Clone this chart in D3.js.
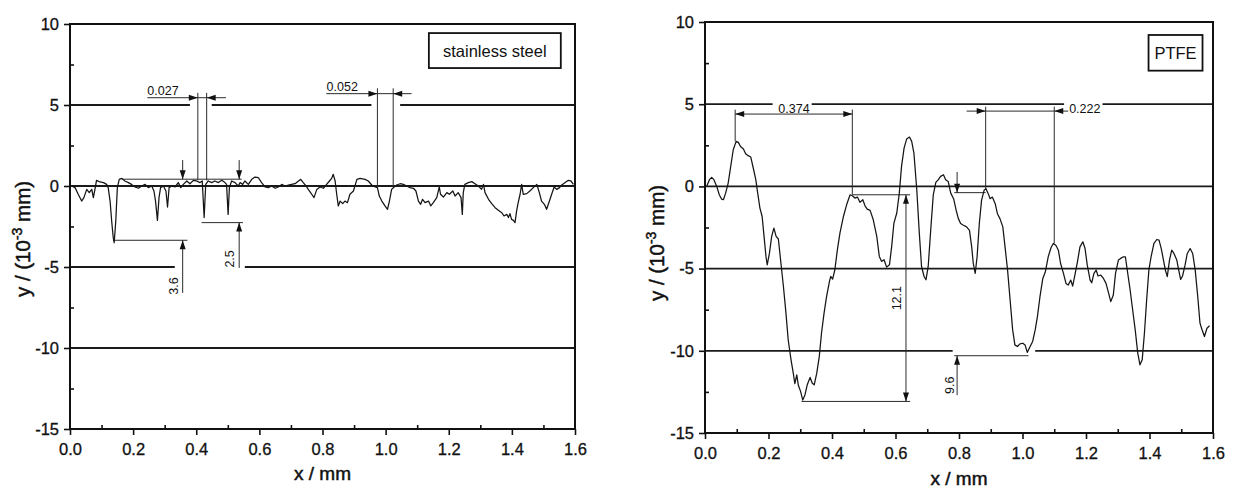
<!DOCTYPE html>
<html>
<head>
<meta charset="utf-8">
<script src="https://cdn.jsdelivr.net/npm/d3@7/dist/d3.min.js"></script>
<style>
  html, body { margin: 0; padding: 0; background: #fff; }
  svg { display: block; }
  text { font-family: "Liberation Sans", Arial, sans-serif; fill: #111; }
</style>
</head>
<body>
<svg id="chart" width="1233" height="489"></svg>
<script>
// ---------------- DATA ----------------
const xMajorTicks = [0, 0.2, 0.4, 0.6, 0.8, 1.0, 1.2, 1.4, 1.6];
const xMinorTicks = [0.1, 0.3, 0.5, 0.7, 0.9, 1.1, 1.3, 1.5];
const yMajorTicks = [10, 5, 0, -5, -10, -15];
const yMinorTicks = [7.5, 2.5, -2.5, -7.5, -12.5];
const xTickLabels = ["0.0", "0.2", "0.4", "0.6", "0.8", "1.0", "1.2", "1.4", "1.6"];
const yTickLabels = ["10", "5", "0", "-5", "-10", "-15"];
const panelNames = ["stainless steel", "PTFE"];

// stainless steel surface profile [x mm, y 10^-3 mm]
const steelProfile = [
[0.005,0],[0.016,-0.10],[0.026,-0.51],[0.037,-0.93],[0.044,-0.72],[0.053,-0.21],[0.061,-0.41],[0.069,-0.21],
[0.074,-0.72],[0.079,-0.21],[0.084,0.35],[0.095,0.25],[0.106,0.21],[0.116,0.10],[0.121,-0.10],[0.127,-0.93],
[0.132,-2.16],[0.137,-3.19],[0.140,-3.50],[0.145,-2.16],[0.150,-0.10],[0.156,0.41],[0.164,0.47],[0.174,0.31],
[0.185,0.21],[0.195,0.10],[0.206,-0.06],[0.217,-0.14],[0.227,0],[0.238,0.10],[0.248,-0.10],[0.259,0],
[0.266,-0.31],[0.271,-0.93],[0.277,-2.12],[0.282,-0.72],[0.287,-0.10],[0.296,0],[0.304,-0.31],[0.309,-1.30],
[0.314,-0.10],[0.322,0],[0.333,-0.06],[0.343,0.21],[0.351,-0.10],[0.359,0.10],[0.370,0.31],[0.380,0.14],
[0.391,0.35],[0.401,0.31],[0.412,0.21],[0.419,0.31],[0.425,-1.95],[0.430,0.10],[0.438,0.31],[0.449,0.21],
[0.459,0.31],[0.470,0.21],[0.481,0.35],[0.491,0.21],[0.496,0.10],[0.501,-1.75],[0.505,-0.10],[0.512,0.31],
[0.523,0.21],[0.533,0],[0.539,0.21],[0.547,0.10],[0.554,0.31],[0.565,0.10],[0.576,0.41],[0.586,0.55],
[0.597,0.51],[0.607,0.21],[0.618,-0.06],[0.628,-0.10],[0.639,0],[0.650,-0.14],[0.660,-0.06],[0.671,0.10],
[0.681,0],[0.692,0.06],[0.702,0.10],[0.713,0.14],[0.724,0.31],[0.731,0.41],[0.739,0.21],[0.748,0],
[0.755,-0.21],[0.766,-0.51],[0.773,-0.72],[0.782,-0.21],[0.792,-0.06],[0.803,-0.14],[0.813,0.10],[0.822,0.31],
[0.829,0.47],[0.834,0.72],[0.840,0.31],[0.845,-0.51],[0.850,-1.23],[0.856,-0.93],[0.864,-1.09],[0.871,-0.93],
[0.879,-1.03],[0.887,-0.51],[0.898,-0.31],[0.909,0.41],[0.919,0.47],[0.935,0.41],[0.945,0.31],[0.956,0.06],
[0.967,-0.06],[0.974,-0.10],[0.980,-0.62],[0.988,-0.93],[0.998,-1.23],[1.006,-1.44],[1.012,-0.93],[1.019,-0.21],
[1.027,-0.06],[1.035,0.06],[1.046,0.14],[1.056,0.10],[1.067,0],[1.077,-0.10],[1.088,-0.14],[1.096,-0.31],
[1.104,-0.93],[1.111,-1.13],[1.117,-0.82],[1.125,-1.03],[1.136,-0.93],[1.143,-1.23],[1.151,-1.03],[1.162,-0.72],
[1.170,-0.06],[1.174,-0.51],[1.183,-0.68],[1.194,-0.41],[1.202,-0.51],[1.213,-0.31],[1.220,-0.62],[1.230,-0.41],
[1.239,-0.72],[1.243,-1.75],[1.246,-0.41],[1.251,0.10],[1.262,0.21],[1.273,0.27],[1.283,0.14],[1.294,0],
[1.304,-0.21],[1.310,0.10],[1.315,-0.41],[1.326,-0.82],[1.336,-1.09],[1.347,-1.34],[1.357,-1.50],[1.368,-1.65],
[1.375,-1.85],[1.384,-1.75],[1.389,-1.95],[1.394,-1.71],[1.399,-2.06],[1.405,-2.12],[1.410,-2.26],[1.415,-1.54],
[1.420,-1.03],[1.426,-0.51],[1.431,0.10],[1.436,-0.51],[1.447,-0.47],[1.457,-0.31],[1.468,-0.10],[1.479,0.10],
[1.487,-0.41],[1.494,-0.93],[1.503,-1.13],[1.510,-1.44],[1.519,-0.93],[1.526,-0.51],[1.534,-0.06],[1.542,-0.21],
[1.551,-0.10],[1.558,0.06],[1.569,0.21],[1.579,0.35],[1.587,0.31],[1.595,0.10]
];

// PTFE surface profile [x mm, y 10^-3 mm]
const ptfeProfile = [
[0.005,0],[0.014,0.41],[0.021,0.55],[0.028,0.41],[0.037,0],[0.045,-0.51],[0.052,-0.77],[0.058,-0.81],
[0.065,-0.41],[0.073,0.20],[0.081,1.22],[0.089,2.23],[0.098,2.74],[0.105,2.68],[0.112,2.43],[0.121,2.27],
[0.128,1.99],[0.136,1.87],[0.144,1.79],[0.152,1.12],[0.160,0.41],[0.166,-0.41],[0.173,-1.32],[0.180,-1.83],
[0.186,-3.04],[0.192,-4.26],[0.196,-4.77],[0.203,-4.06],[0.210,-3.04],[0.217,-2.54],[0.224,-3.04],[0.231,-3.20],
[0.238,-4.46],[0.247,-6.09],[0.255,-7.71],[0.262,-9.33],[0.271,-10.55],[0.278,-11.36],[0.283,-12.0],[0.289,-11.46],
[0.294,-12.1],[0.301,-12.47],[0.308,-13.0],[0.315,-12.67],[0.322,-12.07],[0.331,-11.62],[0.338,-11.97],[0.344,-12.07],
[0.352,-11.36],[0.360,-10.34],[0.367,-8.92],[0.375,-7.71],[0.383,-6.69],[0.392,-5.78],[0.396,-5.48],[0.402,-5.64],
[0.409,-5.07],[0.417,-3.85],[0.425,-2.84],[0.436,-1.83],[0.446,-1.12],[0.457,-0.51],[0.464,-0.57],[0.472,-0.71],
[0.480,-0.65],[0.488,-0.97],[0.497,-0.81],[0.504,-1.18],[0.511,-1.38],[0.520,-1.46],[0.530,-2.03],[0.541,-3.04],
[0.549,-4.26],[0.556,-4.56],[0.564,-4.46],[0.572,-4.91],[0.581,-4.77],[0.588,-3.65],[0.595,-2.23],[0.604,-1.62],
[0.612,-0.41],[0.619,1.22],[0.627,2.33],[0.635,2.88],[0.644,3.00],[0.651,2.74],[0.658,2.03],[0.667,-0.20],
[0.675,-2.84],[0.682,-4.87],[0.690,-5.48],[0.696,-5.68],[0.703,-4.87],[0.711,-2.64],[0.719,-0.51],[0.727,0.24],
[0.735,0.41],[0.742,0.61],[0.751,0.71],[0.758,0.41],[0.766,0.30],[0.774,-0.41],[0.783,-0.75],[0.791,-1.45],
[0.798,-1.96],[0.805,-2.26],[0.814,-2.36],[0.824,-2.46],[0.833,-2.67],[0.840,-3.68],[0.845,-4.69],[0.851,-5.29],
[0.857,-4.28],[0.864,-2.26],[0.871,-0.85],[0.879,-0.24],[0.885,-0.14],[0.892,-0.44],[0.898,-0.75],[0.905,-0.65],
[0.914,-1.05],[0.921,-1.66],[0.929,-1.96],[0.938,-2.46],[0.945,-3.68],[0.953,-5.09],[0.961,-6.91],[0.969,-8.73],
[0.976,-9.64],[0.984,-9.74],[0.992,-9.58],[1.001,-9.54],[1.008,-9.64],[1.015,-10.10],[1.024,-9.74],[1.032,-9.43],
[1.040,-8.73],[1.047,-7.92],[1.055,-6.71],[1.064,-5.60],[1.072,-5.19],[1.081,-4.28],[1.090,-3.72],[1.097,-3.47],
[1.105,-3.58],[1.113,-3.88],[1.120,-4.69],[1.129,-5.29],[1.137,-5.90],[1.144,-6.00],[1.152,-5.70],[1.158,-6.06],
[1.165,-5.39],[1.173,-4.59],[1.181,-3.68],[1.190,-3.37],[1.197,-3.78],[1.204,-4.79],[1.213,-5.70],[1.218,-5.86],
[1.225,-5.29],[1.232,-5.09],[1.238,-5.45],[1.246,-5.39],[1.255,-5.60],[1.263,-5.90],[1.270,-6.40],[1.278,-7.01],
[1.286,-6.61],[1.293,-5.29],[1.302,-4.48],[1.309,-4.38],[1.318,-4.28],[1.324,-4.28],[1.330,-5.09],[1.339,-6.30],
[1.347,-7.52],[1.355,-8.73],[1.363,-10.14],[1.370,-10.85],[1.377,-10.55],[1.384,-8.93],[1.391,-6.91],[1.398,-5.09],
[1.405,-4.28],[1.414,-3.47],[1.423,-3.23],[1.430,-3.27],[1.437,-3.78],[1.444,-4.48],[1.450,-5.09],[1.456,-5.49],
[1.463,-4.48],[1.470,-3.88],[1.477,-4.08],[1.486,-4.48],[1.492,-5.09],[1.498,-5.66],[1.504,-5.45],[1.512,-4.79],
[1.519,-4.08],[1.528,-3.78],[1.536,-4.08],[1.544,-5.09],[1.552,-6.71],[1.559,-8.32],[1.565,-8.69],[1.573,-9.13],
[1.581,-8.63],[1.589,-8.48]
];

// horizontal reference lines [y, [x-start, x-end] segments]
const steelGrid = [
  [5,  [[0, 0.380], [0.449, 0.955], [1.046, 1.6]]],
  [0,  [[0, 1.6]]],
  [-5, [[0, 0.332], [0.554, 1.6]]],
  [-10,[[0, 1.6]]]
];
const ptfeGrid = [
  [5,  [[0, 0.213], [0.336, 1.131], [1.252, 1.6]]],
  [0,  [[0, 1.6]]],
  [-5, [[0, 1.6]]],
  [-10,[[0, 0.780], [1.04, 1.6]]]
];

// dimension lines [x1, y1, x2, y2]
const steelDims = [
  [0.245, 5.45, 0.494, 5.45], [0.405, 5.75, 0.405, 0.35], [0.433, 5.75, 0.433, 0.35],
  [0.812, 5.70, 1.082, 5.70], [0.974, 6.03, 0.974, -0.05], [1.024, 6.03, 1.024, -0.05],
  [0.164, 0.42, 0.544, 0.42], [0.136, -3.35, 0.372, -3.35],
  [0.357, 1.6, 0.357, 0.42], [0.357, -6.6, 0.357, -3.35],
  [0.417, -2.26, 0.548, -2.26], [0.536, 1.6, 0.536, 0.42], [0.536, -5.06, 0.536, -2.26]
];
const steelArrows = [
  [0.405, 5.45, "right"], [0.433, 5.45, "left"], [0.974, 5.70, "right"], [1.024, 5.70, "left"],
  [0.357, 0.42, "down"], [0.357, -3.35, "up"], [0.536, 0.42, "down"], [0.536, -2.26, "up"]
];
const steelLabels = [["0.027", 0.245, 5.60, 0], ["0.052", 0.813, 5.85, 0], ["3.6", 0.330, -6.17, -90], ["2.5", 0.507, -4.5, -90]];

const ptfeDims = [
  [0.095, 4.67, 0.095, 2.74], [0.464, 4.67, 0.464, -0.51], [0.095, 4.40, 0.464, 4.40],
  [0.464, -0.51, 0.646, -0.51], [0.304, -13.08, 0.646, -13.08], [0.633, -0.51, 0.633, -13.08],
  [0.794, 0.88, 0.794, -0.38], [0.785, -0.38, 0.884, -0.38], [0.785, -10.3, 1.019, -10.3], [0.794, -12.7, 0.794, -10.3],
  [0.824, 4.58, 1.144, 4.58], [0.884, 4.85, 0.884, -0.15], [1.100, 4.85, 1.100, -3.47]
];
const ptfeArrows = [
  [0.095, 4.40, "left"], [0.464, 4.40, "right"], [0.633, -0.51, "up"], [0.633, -13.08, "down"],
  [0.794, -0.38, "down"], [0.794, -10.3, "up"], [0.884, 4.58, "right"], [1.100, 4.58, "left"]
];
const ptfeLabels = [["0.374", 0.231, 4.47, 0], ["0.222", 1.147, 4.45, 0], ["12.1", 0.605, -6.8, -90], ["9.6", 0.772, -12.1, -90]];

// ---------------- DRAW ----------------
const svg = d3.select("#chart");

function drawPanel(o) {
  const x = d3.scaleLinear().domain([0, 1.6]).range([o.left, o.right]);
  const y = d3.scaleLinear().domain([-15, 10]).range([o.bottom, o.top]);
  const g = svg.append("g");

  // reference (grid) lines
  o.grid.forEach(([yv, segs]) => {
    segs.forEach(([a, b]) => {
      g.append("line").attr("x1", x(a)).attr("x2", x(b)).attr("y1", y(yv)).attr("y2", y(yv))
        .attr("stroke", "#1a1a1a").attr("stroke-width", 1.8);
    });
  });

  // dimension lines
  g.selectAll("line.dim").data(o.dims).join("line").attr("class", "dim")
    .attr("x1", d => x(d[0])).attr("y1", d => y(d[1])).attr("x2", d => x(d[2])).attr("y2", d => y(d[3]))
    .attr("stroke", "#2a2a2a").attr("stroke-width", 1);

  // arrowheads
  const L = 9, W = 3;
  g.selectAll("path.arrow").data(o.arrows).join("path").attr("class", "arrow")
    .attr("d", d => {
      const px = x(d[0]), py = y(d[1]);
      if (d[2] === "right") return `M${px},${py}L${px - L},${py - W}L${px - L},${py + W}Z`;
      if (d[2] === "left") return `M${px},${py}L${px + L},${py - W}L${px + L},${py + W}Z`;
      if (d[2] === "down") return `M${px},${py}L${px - W},${py - L}L${px + W},${py - L}Z`;
      return `M${px},${py}L${px - W},${py + L}L${px + W},${py + L}Z`;
    })
    .attr("fill", "#111");

  // labels of dimensions
  o.labels.forEach(([t, xv, yv, rot]) => {
    const tx = g.append("text").text(t).attr("font-size", 12.5);
    if (rot === 0) {
      tx.attr("x", x(xv)).attr("y", y(yv));
    } else {
      tx.attr("transform", `translate(${x(xv)},${y(yv)}) rotate(${rot})`)
        .attr("text-anchor", "middle").attr("dominant-baseline", "central");
    }
  });

  // profile
  const line = d3.line().x(d => x(d[0])).y(d => y(d[1]));
  g.append("path").datum(o.profile).attr("d", line)
    .attr("fill", "none").attr("stroke", "#151515").attr("stroke-width", 1.25).attr("stroke-linejoin", "round");

  // axes: major ticks outward, minor ticks inward
  const xAx = g.append("g").attr("transform", `translate(0,${o.bottom})`)
    .call(d3.axisBottom(x).tickValues(xMajorTicks).tickSize(6).tickPadding(8)
      .tickFormat((d, i) => xTickLabels[i]));
  const xMin = g.append("g").attr("transform", `translate(0,${o.bottom})`)
    .call(d3.axisBottom(x).tickValues(xMinorTicks).tickSize(-4).tickFormat(""));
  const yAx = g.append("g").attr("transform", `translate(${o.left},0)`)
    .call(d3.axisLeft(y).tickValues(yMajorTicks).tickSize(6).tickPadding(5)
      .tickFormat((d, i) => yTickLabels[i]));
  const yMin = g.append("g").attr("transform", `translate(${o.left},0)`)
    .call(d3.axisLeft(y).tickValues(yMinorTicks).tickSize(-4).tickFormat(""));
  [xAx, xMin, yAx, yMin].forEach(a => {
    a.select(".domain").remove();
    a.selectAll(".tick line").attr("stroke", "#111").attr("stroke-width", 1.6);
    a.selectAll(".tick text").attr("font-size", 16.5).attr("fill", "#111")
      .attr("stroke", "#111").attr("stroke-width", 0.3)
      .attr("font-family", '"Liberation Sans", Arial, sans-serif');
  });

  // frame
  g.append("rect").attr("x", x(0)).attr("y", y(10)).attr("width", x(1.6) - x(0)).attr("height", y(-15) - y(10))
    .attr("fill", "none").attr("stroke", "#111").attr("stroke-width", 2);

  // legend box
  const lb = g.append("g");
  lb.append("rect").attr("x", x(o.box[0])).attr("y", y(o.box[1]))
    .attr("width", x(o.box[2]) - x(o.box[0])).attr("height", y(o.box[3]) - y(o.box[1]))
    .attr("fill", "#fff").attr("stroke", "#111").attr("stroke-width", 1.8);
  lb.append("text").text(o.name)
    .attr("x", (x(o.box[0]) + x(o.box[2])) / 2).attr("y", (y(o.box[1]) + y(o.box[3])) / 2)
    .attr("text-anchor", "middle").attr("dominant-baseline", "central").attr("font-size", 16.5);

  // axis titles
  g.append("text").text("x / mm").attr("x", (o.left + o.right) / 2).attr("y", o.xTitleY)
    .attr("text-anchor", "middle").attr("font-size", 19).attr("stroke", "#111").attr("stroke-width", 0.5);
  const yt = g.append("text").attr("transform", `translate(${o.yTitleX},${o.yTitleY}) rotate(-90)`)
    .attr("text-anchor", "middle").attr("font-size", 20.5).attr("stroke", "#111").attr("stroke-width", 0.5);
  yt.append("tspan").text("y / (10");
  yt.append("tspan").text("-3").attr("font-size", 14).attr("dy", -8);
  yt.append("tspan").text(" mm)").attr("dy", 8);
}

drawPanel({
  left: 70, right: 575, top: 24, bottom: 429,
  profile: steelProfile, grid: steelGrid, dims: steelDims, arrows: steelArrows, labels: steelLabels,
  name: panelNames[0], box: [1.137, 9.44, 1.555, 7.28],
  xTitleY: 480, yTitleX: 30, yTitleY: 239
});
drawPanel({
  left: 705, right: 1213, top: 22, bottom: 433,
  profile: ptfeProfile, grid: ptfeGrid, dims: ptfeDims, arrows: ptfeArrows, labels: ptfeLabels,
  name: panelNames[1], box: [1.397, 9.21, 1.567, 7.04],
  xTitleY: 485, yTitleX: 664, yTitleY: 243
});
</script>
</body>
</html>
